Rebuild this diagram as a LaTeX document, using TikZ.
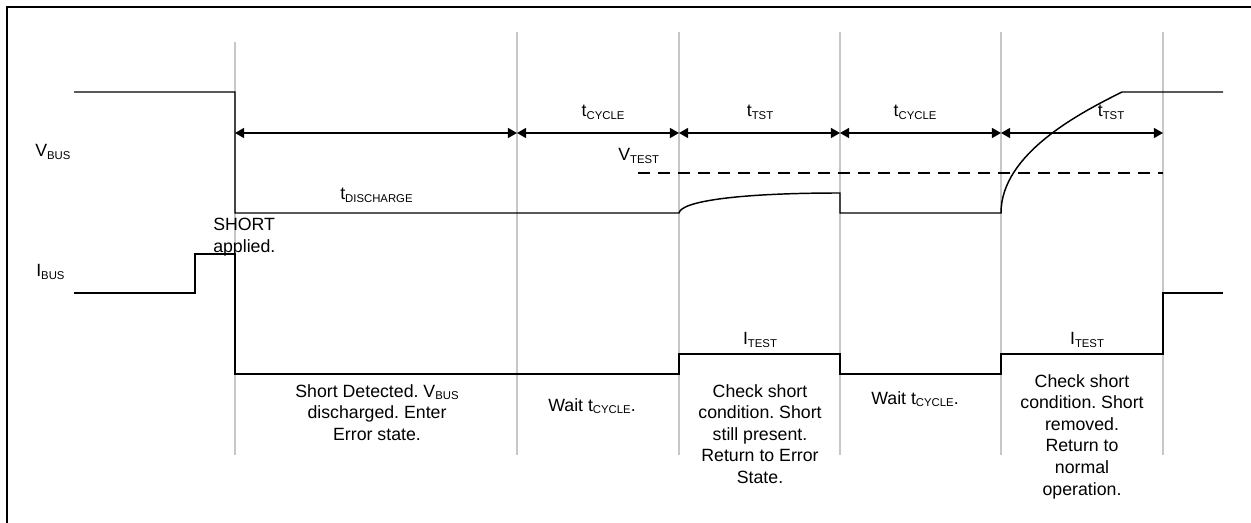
\documentclass[tikz,border=0pt]{standalone}
\usepackage{fontspec}
\setmainfont{Liberation Sans}
\usetikzlibrary{
  arrows.meta
}
\frenchspacing
\newcommand{\sbs}[1]{\raisebox{-0.3ex}{\fontsize{8.5}{9}\selectfont #1}}
\tikzset{
  wave/.style={line width=1.1pt, line join=miter},
  grid/.style={line width=0.9pt, draw=black!22},
  span/.style={{Triangle[length=6.8pt,width=7.5pt]}-{Triangle[length=6.8pt,width=7.5pt]}, line width=1.1pt},
  lbl/.style={font=\fontsize{13.3}{16.2}\selectfont, inner sep=0pt, align=center}
}

\begin{document}
\begin{tikzpicture}[x=0.75pt, y=-0.75pt]
    \useasboundingbox (0,0) rectangle (1251,523);
    \draw[line width=1.5pt] (7,540) -- (7,7) -- (1270,7);

    % time marks
    \foreach \x/\top [count=\i] in {235/42,517/32,679/32,840/32,1001/32,1163/32} {
      \draw[grid] (\x,\top) -- (\x,455);
      \coordinate (g\i) at (\x,133);
    }

    % waveforms
    \draw[wave] (74,92) -- (235,92) -- (235,213) -- (679,213)
      .. controls (681,201) and (740,193) .. (840,193) -- (840,213) -- (1001,213)
      .. controls (1001,153) and (1082,112) .. (1122,92) -- (1223,92);
    \draw[wave, dash pattern=on 9pt off 6pt] (638,173) -- (1163,173);
    \draw[wave] (74,293) -- (195,293) -- (195,254) -- (235,254) -- (235,374)
      -- (679,374) -- (679,354) -- (840,354) -- (840,374) -- (1001,374)
      -- (1001,354) -- (1163,354) -- (1163,293) -- (1223,293);

    % spans
    \foreach \i/\j in {1/2,2/3,3/4,4/5,5/6}
      \draw[span] (g\i) -- (g\j);

    \node[lbl, anchor=base west] (vbus) at (35,157) {V\sbs{BUS}};
    \node[lbl, anchor=base west] (ibus) at (36,277) {I\sbs{BUS}};
    \node[lbl, anchor=base west] (tdis) at (340,200) {t\sbs{DISCHARGE}};
    \node[lbl, anchor=base] (tcyc1) at (603,117) {t\sbs{CYCLE}};
    \node[lbl, anchor=base] (ttst1) at (760,117) {t\sbs{TST}};
    \node[lbl, anchor=base] (tcyc2) at (915,117) {t\sbs{CYCLE}};
    \node[lbl, anchor=base] (ttst2) at (1111,117) {t\sbs{TST}};
    \node[lbl, anchor=base west] (vtest) at (618,161) {V\sbs{TEST}};
    \node[lbl, anchor=base] (itest1) at (760,345) {I\sbs{TEST}};
    \node[lbl, anchor=base] (itest2) at (1087,345) {I\sbs{TEST}};
    \node[lbl, anchor=north west, align=left] (short) at (213,218) {SHORT\\applied.};

    % phases
    \node[lbl, anchor=north] (detect) at (377,384) {Short Detected. V\sbs{BUS}\\discharged. Enter\\Error state.};
    \node[lbl, anchor=base] (wait1) at (592,411) {Wait t\sbs{CYCLE}.};
    \node[lbl, anchor=north] (check1) at (760,384) {Check short\\condition. Short\\still present.\\Return to Error\\State.};
    \node[lbl, anchor=base] (wait2) at (915,404) {Wait t\sbs{CYCLE}.};
    \node[lbl, anchor=north] (check2) at (1082,374) {Check short\\condition. Short\\removed.\\Return to\\normal\\operation.};
\end{tikzpicture}
\end{document}
